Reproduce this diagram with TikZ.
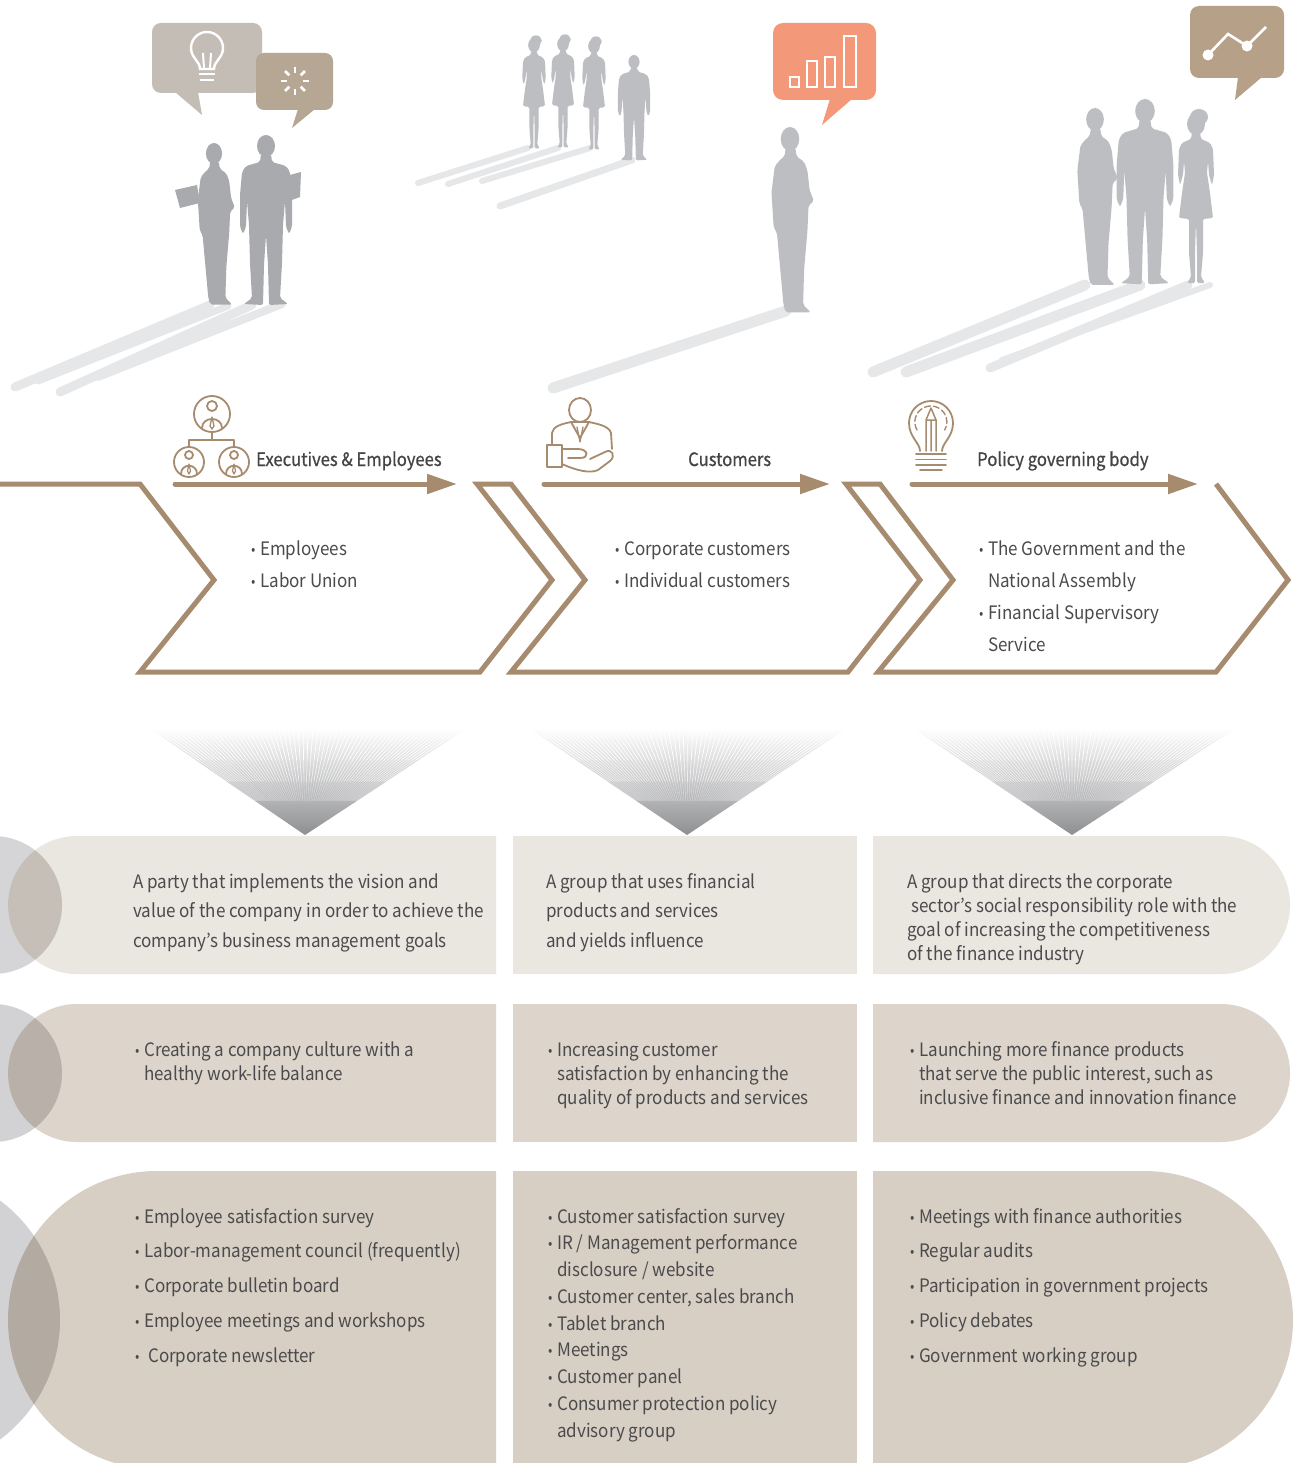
\documentclass[tikz,border=0pt]{standalone}
\usepackage{fontspec}
\setmainfont[FakeStretch=0.92]{Noto Sans CJK KR}
\newfontfamily\headfont[FakeBold=0.6, FakeStretch=0.9]{Noto Sans CJK KR}
\usetikzlibrary{arrows.meta}

\definecolor{tan}{HTML}{A68B6E}
\definecolor{txtc}{HTML}{4B4B4D}
\definecolor{silA}{HTML}{A9AAAD}
\definecolor{silB}{HTML}{BDBEC1}
\definecolor{shd}{HTML}{E6E7E8}
\definecolor{fanc}{HTML}{8E8F92}
\definecolor{bubA}{HTML}{C3BDB6}
\definecolor{bubB}{HTML}{B5A794}
\definecolor{bubC}{HTML}{F4987A}
\definecolor{bubD}{HTML}{B7A088}
\definecolor{rowA}{HTML}{EAE6E0}
\definecolor{rowB}{HTML}{DDD5CB}
\definecolor{rowC}{HTML}{D7CEC4}
\definecolor{gryA}{HTML}{D5D5D7}
\definecolor{gryB}{HTML}{D2D2D4}
\definecolor{gryC}{HTML}{D2D2D4}
\definecolor{lapA}{HTML}{C6BFB8}
\definecolor{lapB}{HTML}{B9B1A9}
\definecolor{lapC}{HTML}{B3AAA2}

\newcommand\bul{\makebox[9pt][l]{\raisebox{0.8pt}{\fontsize{14}{14}\selectfont •}}}
\newcommand\nob{\hspace*{9pt}}

\tikzset{
  txt/.style={anchor=base west, inner sep=0pt, text=txtc, font=\fontsize{18.5}{22}\selectfont},
  headtxt/.style={anchor=base west, inner sep=0pt, text=txtc!90!black, font=\headfont\fontsize{18.5}{22}\selectfont},
  chevron/.style={draw=tan, line width=5pt, line join=miter},
  flow/.style={draw=tan, line width=5pt, line cap=round, -{Triangle[length=30pt,width=19pt]}},
  iconline/.style={draw=tan, line width=1.8pt, line cap=round, line join=round},
  shadowline/.style={draw=shd, line cap=round},
  bubicon/.style={draw=white, line width=2.6pt},
  fanline/.style={draw=white, line width=0.7pt},
  manfront/.pic={
    \fill (0,11) ellipse (9 and 11);
    \fill[rounded corners=2pt] (-5,19) -- (5,19) -- (6,27) -- (20,31) -- (24,37) -- (26,60)
      -- (26,92) -- (23,99) -- (20,92) -- (19,66) -- (17,90) -- (16,128) -- (14,163)
      -- (22,169) -- (3,170) -- (2,130) -- (0,100) -- (-2,130) -- (-3,170) -- (-22,169)
      -- (-14,163) -- (-16,128) -- (-17,90) -- (-19,66) -- (-20,92) -- (-23,99) -- (-26,92)
      -- (-26,60) -- (-24,37) -- (-20,31) -- (-6,27) -- cycle;
  },
  manside/.pic={
    \fill (0,11) ellipse (8.5 and 11);
    \fill[rounded corners=2pt] (-4,19) -- (5,19) -- (6,27) -- (13,32) -- (16,40) -- (18,58)
      -- (22,68) -- (17,72) -- (16,95) -- (13,130) -- (12,163) -- (19,170) -- (-4,170)
      -- (-6,163) -- (-9,130) -- (-12,97) -- (-15,92) -- (-17,60) -- (-14,36) -- (-8,29)
      -- (-5,27) -- cycle;
  },
  woman/.pic={
    \fill (0,11) ellipse (9 and 11);
    \fill (3,4) ellipse (9 and 8);
    \fill[rounded corners=1.5pt] (-4,19) -- (4,19) -- (5,26) -- (14,30) -- (17,36) -- (18,62)
      -- (16,72) -- (13,62) -- (12,48) -- (11,60) -- (14,80) -- (17,105) -- (7,106)
      -- (7,140) -- (5,164) -- (9,170) -- (1,170) -- (1,140) -- (0,108) -- (-1,140)
      -- (-1,170) -- (-9,170) -- (-5,164) -- (-7,140) -- (-7,106) -- (-17,105) -- (-14,80)
      -- (-11,60) -- (-12,48) -- (-13,62) -- (-16,72) -- (-18,62) -- (-17,36) -- (-14,30)
      -- (-5,26) -- cycle;
  }
}

\begin{document}
\begin{tikzpicture}[x=1pt,y=-1pt]
\clip (0,0) rectangle (1298,1463);
\fill[white] (0,0) rectangle (1298,1463);

% ---------- shadows on the floor ----------
\draw[shadowline, line width=9pt] (210,305) -- (15,387);
\draw[shadowline, line width=7pt] (228,306) -- (38,381);
\draw[shadowline, line width=9pt] (252,305) -- (60,392);
\draw[shadowline, line width=8pt] (282,304) -- (98,377);
\draw[shadowline, line width=6pt] (528,148) -- (418,183);
\draw[shadowline, line width=6pt] (558,148) -- (448,184);
\draw[shadowline, line width=6pt] (590,148) -- (482,181);
\draw[shadowline, line width=7pt] (632,160) -- (500,206);
\draw[shadowline, line width=11pt] (786,311) -- (553,388);
\draw[shadowline, line width=11pt] (1085,285) -- (873,372);
\draw[shadowline, line width=11pt] (1140,285) -- (906,372);
\draw[shadowline, line width=9pt] (1188,285) -- (990,368);
\draw[shadowline, line width=6pt] (1210,285) -- (1002,360);

% ---------- people ----------
\pic[fill=silA, scale=0.95] at (214,143) {manside};
\fill[silA] (175,190) -- (197,185) -- (200,203) -- (180,208) -- cycle;
\pic[fill=silA, scale=1.0] at (266,135) {manfront};
\fill[silA] (286,176) -- (301,172) -- (300,197) -- (289,201) -- cycle;

\pic[fill=silB, scale=0.65] at (534,38) {woman};
\pic[fill=silB, scale=0.65] at (563,37) {woman};
\pic[fill=silB, scale=0.65] at (594,39) {woman};
\pic[fill=silB, scale=0.62] at (634,55) {manfront};

\pic[fill=silB, scale=1.09] at (790,127) {manside};

\pic[fill=silB, scale=1.04] at (1095,108) {manside};
\pic[fill=silB, scale=1.09] at (1145,99) {manfront};
\pic[fill=silB, scale=1.0] at (1196,113) {woman};

% ---------- speech bubbles ----------
\fill[bubA, rounded corners=9pt] (152,23) rectangle (262,93);
\fill[bubA] (175,92) -- (198,92) -- (202,115) -- cycle;
\fill[bubB, rounded corners=8pt] (256,53) rectangle (333,110);
\fill[bubB] (298,109) -- (315,109) -- (292,128) -- cycle;
\fill[bubC, rounded corners=10pt] (773,23) rectangle (876,100);
\fill[bubC] (830,99) -- (852,99) -- (822,125) -- cycle;
\fill[bubD, rounded corners=9pt] (1190,6) rectangle (1284,78);
\fill[bubD] (1238,77) -- (1262,77) -- (1235,100) -- cycle;

% light bulb
\draw[bubicon, line width=2.4pt] (200,69) .. controls (200,61) and (191,58) .. (191,48)
  arc[start angle=180, end angle=360, radius=16] .. controls (223,58) and (214,61) .. (214,69) -- cycle;
\draw[bubicon, line width=2pt] (204,68) -- (203,53) (210,68) -- (211,53);
\draw[bubicon, line width=2.6pt] (199,74) -- (215,74) (200,80) -- (214,80);
% spinner
\foreach \a in {0,45,...,315}
  \draw[bubicon, line width=2.6pt] ({295+8*cos(\a)},{81+8*sin(\a)}) -- ({295+14*cos(\a)},{81+14*sin(\a)});
% bar chart
\draw[bubicon] (790,77) rectangle (799,87);
\draw[bubicon] (807,61) rectangle (817,87);
\draw[bubicon] (825,57) rectangle (835,87);
\draw[bubicon] (844,36) rectangle (856,87);
% line chart
\draw[bubicon] (1208,55) -- (1228,34) -- (1247,46) -- (1266,27);
\fill[white] (1208,55) circle (5.5) (1247,46) circle (5.5);

% ---------- chevron band ----------
\draw[chevron] (0,484) -- (140,484) -- (214,580) -- (140,672) -- (480,672) -- (552,580)
  -- (477,484) -- (511,484) -- (585,580) -- (511,672) -- (848,672) -- (920,580) -- (846,484)
  -- (880,484) -- (953,580) -- (878,672) -- (1216,672) -- (1288,580) -- (1216,484);

\coordinate (f1s) at (175,484); \coordinate (f1e) at (457,484);
\coordinate (f2s) at (544,484); \coordinate (f2e) at (830,484);
\coordinate (f3s) at (912,484); \coordinate (f3e) at (1198,484);
\draw[flow] (f1s) -- (f1e);
\draw[flow] (f2s) -- (f2e);
\draw[flow] (f3s) -- (f3e);

% org-chart icon
\draw[iconline] (212,414) circle (18);
\draw[iconline] (212,406) circle (5);
\draw[iconline] (202,428) .. controls (202,416) and (222,416) .. (222,428);
\draw[iconline, line width=1.3pt] (212,417) -- (210,426) -- (212,429) -- (214,426) -- cycle;
\draw[iconline] (212,432) -- (212,440) (189,447) -- (189,440) -- (234,440) -- (234,447);
\foreach \cx in {189,234}{
  \draw[iconline] (\cx,462) circle (15);
  \draw[iconline] (\cx,455) circle (4);
  \draw[iconline] (\cx-8,474) .. controls (\cx-8,463) and (\cx+8,463) .. (\cx+8,474);
  \draw[iconline, line width=1.2pt] (\cx,464) -- (\cx-1.5,471) -- (\cx,474) -- (\cx+1.5,471) -- cycle;
}

% customer icon
\draw[iconline] (580,410) ellipse (11 and 12);
\draw[iconline] (552,445) -- (552,433) .. controls (553,426) and (562,424) .. (571,422) -- (589,422)
  .. controls (598,424) and (609,426) .. (611,433) -- (612,449);
\draw[iconline] (571,422) -- (580,438) -- (589,422);
\draw[iconline, line width=1.3pt] (577,427) -- (580,442) -- (583,427);
\draw[iconline] (547,445) -- (562,445) -- (562,467) -- (547,467) -- cycle;
\draw[iconline] (562,449) -- (578,449) .. controls (588,449) and (590,458) .. (580,458) -- (568,458);
\draw[iconline] (562,464) .. controls (575,470) and (590,474) .. (598,470) -- (610,461)
  .. controls (616,456) and (612,448) .. (605,452) -- (590,459);

% bulb-and-pencil icon
\draw[iconline] (920,451) .. controls (920,443) and (909,437) .. (909,423)
  arc[start angle=180, end angle=360, radius=22] .. controls (953,437) and (942,443) .. (942,451);
\draw[iconline, line width=1.4pt, dash pattern=on 6pt off 3pt] (917,430) arc[start angle=150, end angle=390, radius=16];
\draw[iconline, line width=1.5pt] (926,451) -- (926,420) -- (931,408) -- (936,420) -- (936,451)
  (926,420) -- (936,420) (931,420) -- (931,451);
\draw[iconline] (916,454) -- (946,454) (916,459.5) -- (946,459.5) (916,465) -- (946,465) (920,470) -- (942,470);

% header labels
\node[headtxt] (hA) at (256,466) {Executives \& Employees};
\node[headtxt] (hB) at (688,466) {Customers};
\node[headtxt] (hC) at (977,466) {Policy governing body};

% chevron contents
\node[txt] (cA1) at (251,555) {\bul Employees};
\node[txt] (cA2) at (251,587) {\bul Labor Union};
\node[txt] (cB1) at (615,555) {\bul Corporate customers};
\node[txt] (cB2) at (615,587) {\bul Individual customers};
\node[txt] (cC1) at (979,555) {\bul The Government and the};
\node[txt] (cC2) at (979,587) {\nob National Assembly};
\node[txt] (cC3) at (979,619) {\bul Financial Supervisory};
\node[txt] (cC4) at (979,651) {\nob Service};

% ---------- fans ----------
\foreach \ax/\lx/\rx/\nn in {305/148/468/64, 687/528/848/64, 1072/912/1237/65}{
  \shade[top color=white, middle color=fanc!40, bottom color=fanc]
    (\lx,728) -- (\rx,728) -- (\ax,835) -- cycle;
  \foreach \k in {0,...,\nn}{
    \pgfmathsetmacro\xt{\lx+(\k/\nn)*(\rx-\lx)}
    \pgfmathsetmacro\xa{\ax+0.32*(\xt-\ax)}
    \pgfmathsetmacro\xb{\ax+0.5*(\xt-\ax)}
    \pgfmathsetmacro\xc{\ax+0.7*(\xt-\ax)}
    \draw[fanline, opacity=0.35] (\xa,800.76) -- (\xb,781.5);
    \draw[fanline, opacity=0.7] (\xb,781.5) -- (\xc,760.1);
    \draw[fanline] (\xc,760.1) -- (\xt,728);
  }
  \fill[white] (\lx-5,722) rectangle (\rx+5,729);
}

% ---------- rows ----------
% row 1
\fill[gryA] (-7,905) circle (69);
\fill[rowA] (496,836) -- (77,836) arc[start angle=270, end angle=90, radius=69] -- (496,974) -- cycle;
\begin{scope}
  \clip (-7,905) circle (69);
  \fill[lapA] (77,905) circle (69);
\end{scope}
\fill[rowA] (513,836) rectangle (857,974);
\fill[rowA] (873,836) -- (1221,836) arc[start angle=-90, end angle=90, radius=69] -- (873,974) -- cycle;

% row 2
\fill[gryB] (-7,1073) circle (69);
\fill[rowB] (496,1004) -- (77,1004) arc[start angle=270, end angle=90, radius=69] -- (496,1142) -- cycle;
\begin{scope}
  \clip (-7,1073) circle (69);
  \fill[lapB] (77,1073) circle (69);
\end{scope}
\fill[rowB] (513,1004) rectangle (857,1142);
\fill[rowB] (873,1004) -- (1221,1004) arc[start angle=-90, end angle=90, radius=69] -- (873,1142) -- cycle;

% row 3
\fill[gryC] (-89,1320) circle (149);
\fill[rowC] (496,1171) -- (157,1171) arc[start angle=270, end angle=90, radius=149] -- (496,1469) -- cycle;
\begin{scope}
  \clip (-89,1320) circle (149);
  \fill[lapC] (157,1320) circle (149);
\end{scope}
\fill[rowC] (513,1171) rectangle (857,1469);
\fill[rowC] (873,1171) -- (1144,1171) arc[start angle=-90, end angle=90, radius=149] -- (873,1469) -- cycle;

% row 1 texts
\foreach \t [count=\i] in {A party that implements the vision and,
    value of the company in order to achieve the,
    company’s business management goals}
  \node[txt] (dA\i) at (133,{888+(\i-1)*29.5}) {\t};
\foreach \t [count=\i] in {A group that uses financial, products and services, and yields influence}
  \node[txt] (dB\i) at (546,{888+(\i-1)*29.5}) {\t};
\foreach \t [count=\i] in {A group that directs the corporate,
    \hspace*{4pt}sector’s social responsibility role with the,
    goal of increasing the competitiveness, of the finance industry}
  \node[txt] (dC\i) at (907,{888+(\i-1)*24}) {\t};

% row 2 texts
\foreach \t [count=\i] in {\bul Creating a company culture with a, \nob healthy work-life balance}
  \node[txt] (gA\i) at (135,{1056+(\i-1)*24}) {\t};
\foreach \t [count=\i] in {\bul Increasing customer, \nob satisfaction by enhancing the,
    \nob quality of products and services}
  \node[txt] (gB\i) at (548,{1056+(\i-1)*24}) {\t};
\foreach \t [count=\i] in {\bul Launching more finance products,
    \nob {that serve the public interest, such as},
    \nob inclusive finance and innovation finance}
  \node[txt] (gC\i) at (910,{1056+(\i-1)*24}) {\t};

% row 3 texts
\foreach \t [count=\i] in {\bul Employee satisfaction survey,
    \bul Labor-management council (frequently),
    \bul Corporate bulletin board,
    \bul Employee meetings and workshops,
    \bul\hspace*{4pt}Corporate newsletter}
  \node[txt] (mA\i) at (135,{1223+(\i-1)*34.75}) {\t};
\foreach \t [count=\i] in {\bul Customer satisfaction survey,
    \bul IR / Management performance,
    \nob disclosure / website,
    \bul {Customer center, sales branch},
    \bul Tablet branch,
    \bul Meetings,
    \bul Customer panel,
    \bul Consumer protection policy,
    \nob advisory group}
  \node[txt] (mB\i) at (548,{1223+(\i-1)*26.75}) {\t};
\foreach \t [count=\i] in {\bul Meetings with finance authorities,
    \bul Regular audits,
    \bul Participation in government projects,
    \bul Policy debates,
    \bul Government working group}
  \node[txt] (mC\i) at (910,{1223+(\i-1)*34.75}) {\t};

\end{tikzpicture}
\end{document}
